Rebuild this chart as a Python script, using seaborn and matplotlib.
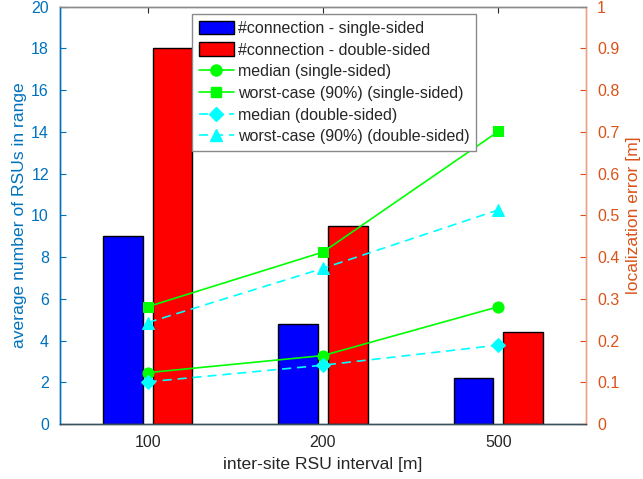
import matplotlib
matplotlib.use("Agg")
import matplotlib.pyplot as plt
import seaborn as sns
import pandas as pd
import numpy as np
from matplotlib.patches import Patch
from matplotlib.lines import Line2D

# ---- data ----
intervals = ["100", "200", "500"]
conn_single = [9.0, 4.8, 2.2]
conn_double = [18.0, 9.5, 4.4]
median_single = [0.123, 0.164, 0.281]
worst_single = [0.281, 0.412, 0.701]
median_double = [0.101, 0.141, 0.189]
worst_double = [0.243, 0.373, 0.513]

bar_labels = ["#connection - single-sided", "#connection - double-sided"]
line_labels = ["median (single-sided)", "worst-case (90%) (single-sided)",
               "median (double-sided)", "worst-case (90%) (double-sided)"]

sns.set_style("white")
plt.rcParams['font.family'] = ['Liberation Sans', 'DejaVu Sans']

BLUE_AX = "#0072BD"
ORANGE_AX = "#D95319"
TICK_FS = 11.5
LABEL_FS = 12.6
DASH = (0, (5.5, 3.5))

fig = plt.figure(figsize=(6.43, 4.79), dpi=100)
ax1 = fig.add_axes([60/643, 1-424/479, (586-60)/643, (424-6.7)/479])

df = pd.DataFrame({
    "interval": intervals * 2,
    "value": conn_single + conn_double,
    "series": [bar_labels[0]] * 3 + [bar_labels[1]] * 3,
})
sns.barplot(data=df, x="interval", y="value", hue="series", order=intervals,
            hue_order=bar_labels, palette=["#0000FF", "#FF0000"],
            width=0.568, gap=0.2, edgecolor="black", linewidth=1.0,
            saturation=1, legend=False, ax=ax1)

ax1.set_xlim(-0.5, 2.5)
ax1.set_ylim(0, 20)
ax1.set_yticks(np.arange(0, 21, 2))
ax1.set_ylabel("average number of RSUs in range", color=BLUE_AX, fontsize=LABEL_FS, labelpad=3)
ax1.set_xlabel("inter-site RSU interval [m]", color="#262626", fontsize=LABEL_FS, labelpad=5)
ax1.tick_params(axis='y', colors=BLUE_AX, direction='in', length=4, labelsize=TICK_FS, pad=8)
ax1.tick_params(axis='x', colors="#262626", direction='in', length=4, labelsize=TICK_FS, pad=8, top=True)
for t in ax1.get_xticklabels():
    t.set_color("#262626")

ax2 = ax1.twinx()
xs = np.arange(len(intervals))
line_specs = [
    (median_single, "#00FF00", "o", "-", 8),
    (worst_single, "#00FF00", "s", "-", 7),
    (median_double, "#00FFFF", "D", DASH, 7),
    (worst_double, "#00FFFF", "^", DASH, 8),
]
for vals, col, mk, ls, ms in line_specs:
    sns.lineplot(x=xs, y=vals, color=col, marker=mk, linestyle=ls, markersize=ms,
                 markeredgecolor=col, linewidth=1.2, ax=ax2, legend=False)
ax2.set_xlim(-0.5, 2.5)
ax2.set_ylim(0, 1)
ax2.set_yticks(np.round(np.arange(0, 1.01, 0.1), 1))
ax2.set_yticklabels(["0", "0.1", "0.2", "0.3", "0.4", "0.5", "0.6", "0.7", "0.8", "0.9", "1"])
ax2.set_ylabel("localization error [m]", color=ORANGE_AX, fontsize=LABEL_FS, labelpad=5)
ax2.tick_params(axis='y', colors=ORANGE_AX, direction='in', length=4, labelsize=TICK_FS, pad=8)

for ax in (ax1, ax2):
    ax.spines['left'].set_color(BLUE_AX)
    ax.spines['right'].set_color("#EDA283")
    ax.spines['bottom'].set_color("#3b4f5c")
    ax.spines['top'].set_color("#8a8a8a")
    for s in ax.spines.values():
        s.set_linewidth(1.0)
        s.set_visible(True)

handles = [Patch(facecolor="#0000FF", edgecolor="black", label=bar_labels[0]),
           Patch(facecolor="#FF0000", edgecolor="black", label=bar_labels[1])]
for (vals, col, mk, ls, ms), lab in zip(line_specs, line_labels):
    handles.append(Line2D([0], [0], color=col, marker=mk, linestyle=ls, markersize=ms,
                          markeredgecolor=col, linewidth=1.2, label=lab))
leg = ax2.legend(handles=handles, loc="upper center", bbox_to_anchor=(0.521, 0.9825),
                 fontsize=11.5, frameon=True, fancybox=False, framealpha=1,
                 edgecolor="#8a8a8a", borderpad=0.42, labelspacing=0.41,
                 handlelength=2.2, handleheight=0.9, handletextpad=0.25,
                 borderaxespad=0.0)
leg.get_frame().set_linewidth(1.0)

fig.savefig("out.png", dpi=100)
